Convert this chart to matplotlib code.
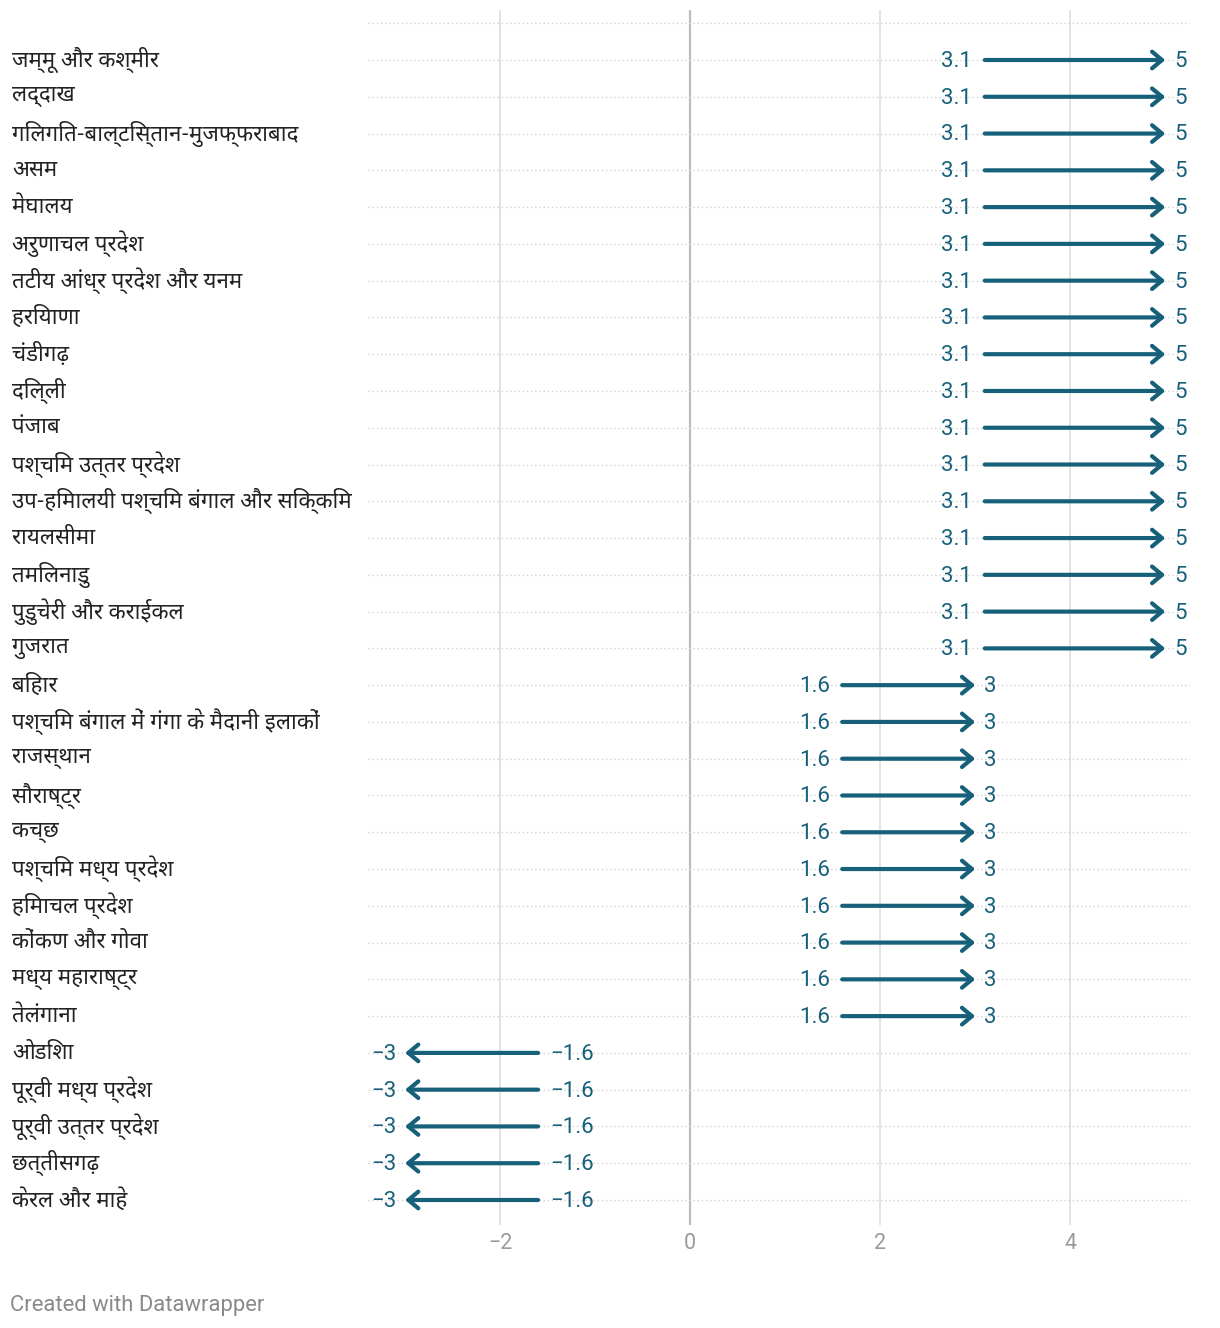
import matplotlib
matplotlib.use("Agg")
import matplotlib.pyplot as plt
from matplotlib import font_manager
from matplotlib.ft2font import FT2Font
from matplotlib.transforms import blended_transform_factory

# ---------------- data ----------------
regions = [
    "जम्मू और कश्मीर", "लद्दाख", "गिलगित-बाल्टिस्तान-मुजफ्फराबाद", "असम", "मेघालय",
    "अरुणाचल प्रदेश", "तटीय आंध्र प्रदेश और यनम", "हरियाणा", "चंडीगढ़", "दिल्ली",
    "पंजाब", "पश्चिम उत्तर प्रदेश", "उप-हिमालयी पश्चिम बंगाल और सिक्किम", "रायलसीमा",
    "तमिलनाडु", "पुडुचेरी और कराईकल", "गुजरात",
    "बिहार", "पश्चिम बंगाल में गंगा के मैदानी इलाकों", "राजस्थान", "सौराष्ट्र", "कच्छ",
    "पश्चिम मध्य प्रदेश", "हिमाचल प्रदेश", "कोंकण और गोवा", "मध्य महाराष्ट्र", "तेलंगाना",
    "ओडिशा", "पूर्वी मध्य प्रदेश", "पूर्वी उत्तर प्रदेश", "छत्तीसगढ़", "केरल और माहे",
]
start_vals = [3.1] * 17 + [1.6] * 10 + [-1.6] * 5
end_vals = [5] * 17 + [3] * 10 + [-3] * 5
x_ticks = [-2, 0, 2, 4]

# ---------------- fonts ----------------
def find_font(cp, prefer=()):
    found = []
    for f in font_manager.fontManager.ttflist:
        try:
            if cp in FT2Font(f.fname).get_charmap():
                found.append(f.name)
        except Exception:
            pass
    for p in prefer:
        if p in found:
            return p
    return found[0] if found else None

dev_font = find_font(0x0915, prefer=("Noto Sans Devanagari", "Noto Sans", "Lohit Devanagari"))
num_family = ["Roboto", "DejaVu Sans"]
lab_family = ([dev_font] if dev_font else []) + ["Roboto", "DejaVu Sans"]

color = "#17607a"

W, H = 1220, 1328
fig = plt.figure(figsize=(W / 100, H / 100), dpi=100)
ax_left, ax_right = 368 / W, 1190 / W
ax_top, ax_bottom = 10 / H, 1225 / H
ax = fig.add_axes([ax_left, 1 - ax_bottom, ax_right - ax_left, ax_bottom - ax_top])

n = len(regions)
ax.set_xlim(-3.39, 5.26)
ax.set_ylim(31.68, -1.36)
for s in ax.spines.values():
    s.set_visible(False)
ax.set_yticks([])
ax.set_xticks(x_ticks)
ax.set_xticklabels([("−" if t < 0 else "") + f"{abs(t):g}" for t in x_ticks],
                   fontfamily=num_family, fontsize=15.5, color="#9a9a9a")
ax.tick_params(axis="x", length=0, pad=6)

# vertical grid
for t in x_ticks:
    if t == 0:
        ax.axvline(0, color="#bdbdbd", lw=1.6, zorder=1)
    else:
        ax.axvline(t, color="#e3e3e3", lw=1.4, zorder=1)

# dotted row lines
ax.hlines([-1] + list(range(n)), -3.39, 5.26, colors="#d2d2d2", lw=1.0,
          linestyles=(0, (1, 2)), zorder=1)

def fmt(v):
    return ("−" if v < 0 else "") + f"{abs(v):g}"

for i, (s, e) in enumerate(zip(start_vals, end_vals)):
    ax.annotate("", xy=(e, i), xytext=(s, i),
                arrowprops=dict(arrowstyle="->,head_length=0.36,head_width=0.3",
                                lw=3, color=color, shrinkA=0, shrinkB=0,
                                mutation_scale=20, capstyle="round"),
                zorder=3)
    d = 1 if e > s else -1
    ax.annotate(fmt(s), xy=(s, i), xytext=(-9 * d, -1), textcoords="offset points",
                ha="right" if d > 0 else "left", va="center",
                fontsize=16, color=color, fontfamily=num_family, zorder=4)
    ax.annotate(fmt(e), xy=(e, i), xytext=(6.5 * d, -1), textcoords="offset points",
                ha="left" if d > 0 else "right", va="center",
                fontsize=16, color=color, fontfamily=num_family, zorder=4)

tr = blended_transform_factory(fig.transFigure, ax.transData)
for i, name in enumerate(regions):
    ax.text(12 / W, i, name, transform=tr, ha="left", va="center",
            fontsize=16, color="#222222", fontfamily=lab_family)

fig.text(10 / W, 1 - 1305 / H, "Created with Datawrapper", ha="left", va="center",
         fontsize=15.8, color="#8a8a8a", fontfamily=num_family)

fig.savefig("out.png", dpi=100, facecolor="white")
